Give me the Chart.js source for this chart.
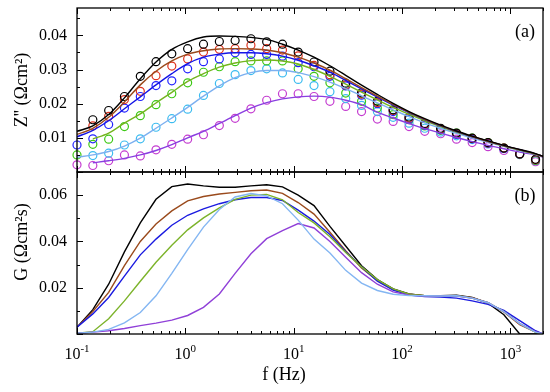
<!DOCTYPE html>
<html>
<head>
<meta charset="utf-8">
<script src="https://cdn.jsdelivr.net/npm/chart.js@4.4.0/dist/chart.umd.min.js"></script>
<style>
  html, body { margin: 0; padding: 0; background: #fff; }
  #wrap { position: relative; width: 550px; height: 392px; }
  #wrap canvas { position: absolute; left: 0; top: 0; }
</style>
</head>
<body>
<div id="wrap">
  <canvas id="chartZ" width="550" height="392"></canvas>
  <canvas id="chartG" width="550" height="392"></canvas>
</div>
<script>
// frequencias medidas (Hz)
const freq = [0.1, 0.140, 0.196, 0.274, 0.384, 0.536, 0.750, 1.05, 1.47, 2.06, 2.88, 4.03, 5.63, 7.88, 11.0,
  15.4, 21.6, 30.2, 42.3, 59.2, 82.8, 116, 162, 227, 318, 444, 622, 871, 1219, 1706];
// linhas de ajuste vao ate 2000 Hz
const fitFreq = freq.concat([2000]);

// (a) Z'' medido - circulos
const zBlack = [null, 0.0153, 0.0180, 0.0221, 0.0280, 0.0323, 0.0346, 0.0361, 0.0374, 0.0382, 0.0385, 0.0390, 0.0381, 0.0374, 0.0351,
  0.0322, 0.0295, 0.0260, 0.0232, 0.0207, 0.0182, 0.0161, 0.0142, 0.0128, 0.0114, 0.0099, 0.0086, 0.0070, 0.0053, 0.0037];
const zRed = [null, 0.0135, 0.0163, 0.0212, 0.0236, 0.0282, 0.0310, 0.0331, 0.0351, 0.0359, 0.0361, 0.0371, 0.0361, 0.0357, 0.0340,
  0.0312, 0.0285, 0.0255, 0.0228, 0.0203, 0.0180, 0.0158, 0.0139, 0.0126, 0.0112, 0.0098, 0.0085, 0.0070, 0.0053, 0.0036];
const zBlue = [0.0079, 0.0097, 0.0139, 0.0187, 0.0221, 0.0253, 0.0267, 0.0302, 0.0323, 0.0331, 0.0349, 0.0344, 0.0344, 0.0339, 0.0320,
  0.0308, 0.0280, 0.0252, 0.0225, 0.0200, 0.0177, 0.0155, 0.0137, 0.0124, 0.0110, 0.0097, 0.0084, 0.0069, 0.0053, 0.0036];
const zGreen = [0.0050, 0.0081, 0.0096, 0.0133, 0.0165, 0.0197, 0.0229, 0.0261, 0.0292, 0.0308, 0.0323, 0.0325, 0.0325, 0.0325, 0.0302,
  0.0280, 0.0261, 0.0231, 0.0207, 0.0187, 0.0168, 0.0153, 0.0135, 0.0122, 0.0114, 0.0099, 0.0086, 0.0070, 0.0052, 0.0034];
const zCyan = [null, 0.0048, 0.0055, 0.0079, 0.0097, 0.0131, 0.0156, 0.0184, 0.0224, 0.0259, 0.0285, 0.0297, 0.0302, 0.0290, 0.0271,
  0.0253, 0.0235, 0.0215, 0.0195, 0.0177, 0.0160, 0.0143, 0.0128, 0.0117, 0.0106, 0.0095, 0.0082, 0.0068, 0.0051, 0.0033];
const zMagenta = [0.0021, 0.0019, 0.0033, 0.0050, 0.0047, 0.0065, 0.0081, 0.0096, 0.0109, 0.0136, 0.0157, 0.0185, 0.0210, 0.0229, 0.0229,
  0.0221, 0.0207, 0.0192, 0.0177, 0.0155, 0.0148, 0.0133, 0.0119, 0.0112, 0.0096, 0.0086, 0.0074, 0.0063, 0.0052, 0.0030];

// (a) Z'' ajuste - linhas
const fitBlack = [0.0119, 0.0135, 0.0168, 0.0217, 0.0273, 0.0322, 0.0359, 0.0381, 0.0395, 0.0398, 0.0397, 0.0394, 0.0388, 0.0374, 0.0357,
  0.0336, 0.0311, 0.0283, 0.0254, 0.0227, 0.0201, 0.0177, 0.0156, 0.0137, 0.0120, 0.0105, 0.0091, 0.0078, 0.0066, 0.0054, 0.0046];
const fitBrown = [0.0110, 0.0128, 0.0160, 0.0205, 0.0255, 0.0295, 0.0325, 0.0345, 0.0355, 0.0360, 0.0361, 0.0360, 0.0357, 0.0349, 0.0336,
  0.0319, 0.0298, 0.0273, 0.0247, 0.0222, 0.0198, 0.0175, 0.0154, 0.0136, 0.0119, 0.0104, 0.0090, 0.0077, 0.0065, 0.0053, 0.0046];
const fitBlue = [0.0103, 0.0122, 0.0150, 0.0185, 0.0220, 0.0255, 0.0288, 0.0317, 0.0336, 0.0345, 0.0349, 0.0349, 0.0346, 0.0339, 0.0327,
  0.0311, 0.0292, 0.0268, 0.0243, 0.0219, 0.0196, 0.0174, 0.0153, 0.0135, 0.0118, 0.0103, 0.0090, 0.0077, 0.0065, 0.0053, 0.0046];
const fitGreen = [null, 0.0097, 0.0114, 0.0143, 0.0170, 0.0202, 0.0233, 0.0265, 0.0288, 0.0307, 0.0319, 0.0326, 0.0328, 0.0325, 0.0316,
  0.0300, 0.0280, 0.0257, 0.0234, 0.0211, 0.0189, 0.0169, 0.0150, 0.0133, 0.0117, 0.0103, 0.0089, 0.0076, 0.0064, 0.0052, 0.0045];
const fitCyan = [0.0043, 0.0050, 0.0060, 0.0076, 0.0099, 0.0128, 0.0158, 0.0189, 0.0222, 0.0252, 0.0276, 0.0291, 0.0297, 0.0297, 0.0291,
  0.0279, 0.0263, 0.0244, 0.0223, 0.0202, 0.0182, 0.0162, 0.0144, 0.0128, 0.0113, 0.0099, 0.0087, 0.0075, 0.0063, 0.0052, 0.0045];
const fitPurple = [null, 0.0027, 0.0033, 0.0040, 0.0050, 0.0063, 0.0080, 0.0100, 0.0119, 0.0142, 0.0165, 0.0187, 0.0203, 0.0214, 0.0220,
  0.0222, 0.0219, 0.0210, 0.0197, 0.0175, 0.0158, 0.0142, 0.0127, 0.0114, 0.0101, 0.0089, 0.0078, 0.0068, 0.0058, 0.0050, 0.0044];

// (b) G - linhas
const gBlack = [0.0029, 0.0105, 0.0215, 0.0355, 0.0480, 0.0582, 0.0637, 0.0648, 0.0640, 0.0634, 0.0634, 0.0640, 0.0645, 0.0636, 0.0600,
  0.0555, 0.0465, 0.0380, 0.0295, 0.0235, 0.0195, 0.0173, 0.0165, 0.0165, 0.0168, 0.0158, 0.0133, 0.0083, 0.0000, 0.0000, 0.0000];
const gBrown = [0.0029, 0.0097, 0.0180, 0.0295, 0.0400, 0.0475, 0.0532, 0.0575, 0.0594, 0.0605, 0.0612, 0.0619, 0.0622, 0.0608, 0.0568,
  0.0518, 0.0440, 0.0360, 0.0285, 0.0230, 0.0193, 0.0172, 0.0165, 0.0165, 0.0166, 0.0157, 0.0135, 0.0095, 0.0040, 0.0008, 0.0000];
const gBlue = [0.0029, 0.0087, 0.0158, 0.0250, 0.0342, 0.0410, 0.0470, 0.0513, 0.0541, 0.0563, 0.0580, 0.0590, 0.0590, 0.0577, 0.0535,
  0.0488, 0.0430, 0.0355, 0.0290, 0.0228, 0.0190, 0.0168, 0.0162, 0.0160, 0.0155, 0.0143, 0.0128, 0.0102, 0.0058, 0.0014, 0.0000];
const gGreen = [0.0003, 0.0010, 0.0066, 0.0143, 0.0228, 0.0310, 0.0383, 0.0450, 0.0502, 0.0545, 0.0582, 0.0600, 0.0603, 0.0580, 0.0525,
  0.0480, 0.0420, 0.0352, 0.0290, 0.0235, 0.0195, 0.0172, 0.0165, 0.0164, 0.0165, 0.0155, 0.0135, 0.0097, 0.0045, 0.0008, 0.0000];
const gCyan = [0.0003, 0.0008, 0.0020, 0.0048, 0.0093, 0.0165, 0.0262, 0.0365, 0.0462, 0.0538, 0.0592, 0.0607, 0.0597, 0.0563, 0.0492,
  0.0410, 0.0350, 0.0275, 0.0220, 0.0188, 0.0172, 0.0166, 0.0165, 0.0164, 0.0165, 0.0155, 0.0135, 0.0097, 0.0045, 0.0008, 0.0000];
const gPurple = [0.0003, 0.0008, 0.0014, 0.0024, 0.0036, 0.0047, 0.0060, 0.0080, 0.0115, 0.0173, 0.0262, 0.0347, 0.0412, 0.0447, 0.0477,
  0.0458, 0.0400, 0.0332, 0.0265, 0.0215, 0.0182, 0.0168, 0.0164, 0.0164, 0.0164, 0.0155, 0.0135, 0.0097, 0.0045, 0.0010, 0.0000];

// rotulos dos eixos
const xTickVals = [0.1, 1, 10, 100, 1000];
const xTickExps = ['-1', '0', '1', '2', '3'];
const zTicks = [0.01, 0.02, 0.03, 0.04];
const zTickLabels = ['0.01', '0.02', '0.03', '0.04'];
const gTicks = [0.02, 0.04, 0.06];
const gTickLabels = ['0.02', '0.04', '0.06'];

const FONT = '"Liberation Serif", "DejaVu Serif", serif';

function pts(xs, ys) {
  return ys.map((v, i) => ({ x: xs[i], y: v })).filter(p => p.y !== null);
}

function markers(ys, color) {
  return {
    data: pts(freq, ys), showLine: false, clip: false,
    pointRadius: 4, pointBorderWidth: 1.2, pointStyle: 'circle',
    pointBorderColor: color, pointBackgroundColor: 'rgba(0,0,0,0)', borderColor: color
  };
}

function fitLine(ys, color, smooth) {
  return {
    data: pts(fitFreq, ys), borderColor: color, borderWidth: 1.4,
    pointRadius: 0, fill: false,
    cubicInterpolationMode: smooth ? 'monotone' : 'default', tension: 0
  };
}

// moldura, ticks para dentro e textos
const framePlugin = {
  id: 'frame',
  afterDraw(chart, args, o) {
    const { ctx, chartArea: a, scales: { x, y } } = chart;
    ctx.save();
    ctx.strokeStyle = '#000';
    ctx.lineWidth = 1;
    ctx.beginPath();
    for (let e = -1; e <= 3; e++) {
      for (let m = 1; m <= 9; m++) {
        const v = m * Math.pow(10, e);
        if (v < x.min || v > x.max) continue;
        const px = Math.round(x.getPixelForValue(v)) + 0.5;
        const len = m === 1 ? 6 : 3;
        ctx.moveTo(px, a.bottom); ctx.lineTo(px, a.bottom - len);
        ctx.moveTo(px, a.top); ctx.lineTo(px, a.top + len);
      }
    }
    const n = Math.floor(y.max / o.minorStep + 1e-6);
    for (let i = 0; i <= n; i++) {
      const py = Math.round(y.getPixelForValue(i * o.minorStep)) + 0.5;
      const len = i % 2 === 0 ? 6 : 3;
      ctx.moveTo(a.left, py); ctx.lineTo(a.left + len, py);
    }
    ctx.stroke();

    ctx.lineWidth = 1.3;
    ctx.strokeRect(a.left, a.top, a.right - a.left, a.bottom - a.top);

    ctx.fillStyle = '#000';
    ctx.font = '16px ' + FONT;
    ctx.textAlign = 'right';
    ctx.textBaseline = 'middle';
    o.ticks.forEach((v, i) => ctx.fillText(o.tickLabels[i], a.left - 10, y.getPixelForValue(v)));

    // titulo do eixo y
    ctx.save();
    ctx.translate(22, (a.top + a.bottom) / 2 + o.titleShift);
    ctx.rotate(-Math.PI / 2);
    ctx.textAlign = 'center';
    ctx.font = '18px ' + FONT;
    ctx.fillText(o.title, 0, 0);
    ctx.restore();

    ctx.textAlign = 'center';
    ctx.font = '18px ' + FONT;
    ctx.fillText(o.panel, a.right - 18, a.top + 24);

    if (o.xLabels) {
      ctx.textBaseline = 'alphabetic';
      ctx.textAlign = 'left';
      xTickVals.forEach((v, i) => {
        const px = x.getPixelForValue(v);
        ctx.font = '16px ' + FONT;
        const w1 = ctx.measureText('10').width;
        ctx.font = '11px ' + FONT;
        const w2 = ctx.measureText(xTickExps[i]).width;
        const left = px - (w1 + w2) / 2;
        ctx.font = '16px ' + FONT;
        ctx.fillText('10', left, a.bottom + 25);
        ctx.font = '11px ' + FONT;
        ctx.fillText(xTickExps[i], left + w1, a.bottom + 18);
      });
      ctx.font = '18px ' + FONT;
      ctx.textAlign = 'center';
      ctx.textBaseline = 'middle';
      ctx.fillText('f (Hz)', 284, a.bottom + 41);
    }
    ctx.restore();
  }
};

const baseOpts = {
  responsive: false,
  animation: false,
  events: [],
};

new Chart(document.getElementById('chartZ'), {
  type: 'line',
  data: {
    datasets: [
      fitLine(fitBlack, '#000000', true),
      fitLine(fitBrown, '#9a4a1c', true),
      fitLine(fitBlue, '#1414e6', true),
      fitLine(fitGreen, '#74b41e', true),
      fitLine(fitCyan, '#7cb0f0', true),
      fitLine(fitPurple, '#8a3ee0', true),
      markers(zBlack, '#000000'),
      markers(zRed, '#e0321e'),
      markers(zBlue, '#2222ff'),
      markers(zGreen, '#3cc814'),
      markers(zCyan, '#3cbcf0'),
      markers(zMagenta, '#c43cd0')
    ]
  },
  options: {
    ...baseOpts,
    layout: { padding: { left: 77, right: 7, top: 8, bottom: 220 } },
    plugins: {
      legend: { display: false }, tooltip: { enabled: false },
      frame: { minorStep: 0.005, ticks: zTicks, tickLabels: zTickLabels, title: "Z'' (Ωcm²)", titleShift: 0, panel: '(a)', xLabels: false }
    },
    scales: {
      x: { type: 'logarithmic', min: 0.1, max: 2000, display: false },
      y: { min: 0, max: 0.048, display: false }
    }
  },
  plugins: [framePlugin]
});

new Chart(document.getElementById('chartG'), {
  type: 'line',
  data: {
    datasets: [
      fitLine(gCyan, '#84b6f2', false),
      fitLine(gPurple, '#9040d8', false),
      fitLine(gGreen, '#7cb32a', false),
      fitLine(gBlue, '#1a1ae0', false),
      fitLine(gBrown, '#9a4a1c', false),
      fitLine(gBlack, '#000000', false)
    ]
  },
  options: {
    ...baseOpts,
    layout: { padding: { left: 77, right: 7, top: 172, bottom: 58 } },
    plugins: {
      legend: { display: false }, tooltip: { enabled: false },
      frame: { minorStep: 0.01, ticks: gTicks, tickLabels: gTickLabels, title: 'G (Ωcm²s)', titleShift: -11, panel: '(b)', xLabels: true }
    },
    scales: {
      x: { type: 'logarithmic', min: 0.1, max: 2000, display: false },
      y: { min: 0, max: 0.07, display: false }
    }
  },
  plugins: [framePlugin]
});
</script>
</body>
</html>
